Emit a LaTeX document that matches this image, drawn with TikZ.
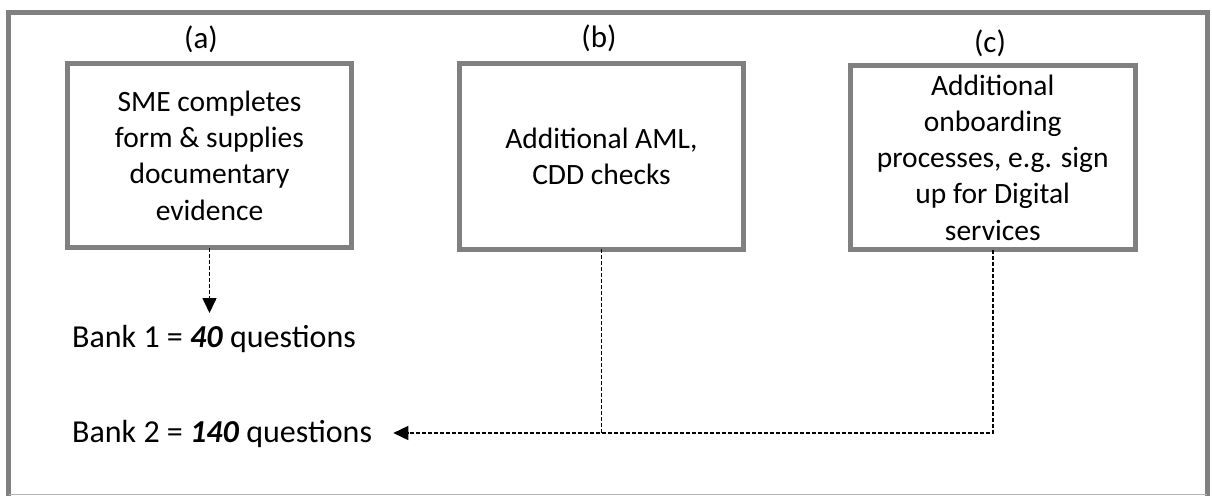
\documentclass[tikz,border=0pt]{standalone}
\usepackage{fontspec}
\setmainfont{Carlito}
\usetikzlibrary{arrows.meta}
\definecolor{framegray}{RGB}{128,128,128}
\tikzset{
  procbox/.style={draw=framegray, line width=5pt, minimum width=284pt, minimum height=184pt,
    align=center, inner sep=0pt, font=\fontsize{29.5}{36.3}\selectfont},
  lbl/.style={font=\fontsize{31}{36}\selectfont, inner sep=0pt},
  banktext/.style={font=\fontsize{32}{36}\selectfont, inner sep=0pt, anchor=west},
  dashconn/.style={line width=1.6pt, dash pattern=on 4pt off 2pt},
  tip/.style={-{Triangle[length=15pt,width=14pt]}}
}
\begin{document}
\begin{tikzpicture}[x=1pt,y=-1pt]
\useasboundingbox (0,0) rectangle (1212,495);
% outer frame
\draw[framegray, line width=5pt] (8.5,497) -- (8.5,12.5) -- (1207,12.5) -- (1207,497);
\draw[framegray!60, line width=1pt] (8.5,494) -- (1207,494);
% labels
\node[lbl] (la) at (201,39) {(a)};
\node[lbl] (lb) at (599,38) {(b)};
\node[lbl] (lc) at (990,43) {(c)};
% boxes
\node[procbox] (abox) at (209.5,155.5) {SME completes\\form \& supplies\\documentary\\evidence};
\node[procbox, minimum height=185.5pt] (bbox) at (601.5,156.25) {Additional AML,\\CDD checks};
\node[procbox, minimum width=284.5pt] (cbox) at (992.75,157.5) {Additional\\onboarding\\processes, e.g. sign\\up for Digital\\services};
% bank texts
\node[banktext] (bank1) at (72,339) {Bank 1 = \textbf{\textit{40}} questions};
\node[banktext] (bank2) at (72,434) {Bank 2 = \textbf{\textit{140}} questions};
% connectors
\coordinate (atip) at (abox.south |- 0,313);
\draw[dashconn, tip] ([yshift=2.5pt]abox.south) -- (atip);
\coordinate (join) at (bbox.south |- 0,433);
\draw[dashconn] ([yshift=2.5pt]bbox.south) -- (join);
\coordinate (arrtip) at (bank2.east |- 0,433);
\draw[dashconn, tip] ([yshift=2.5pt]cbox.south) |- ([xshift=21pt]arrtip);
\end{tikzpicture}
\end{document}
